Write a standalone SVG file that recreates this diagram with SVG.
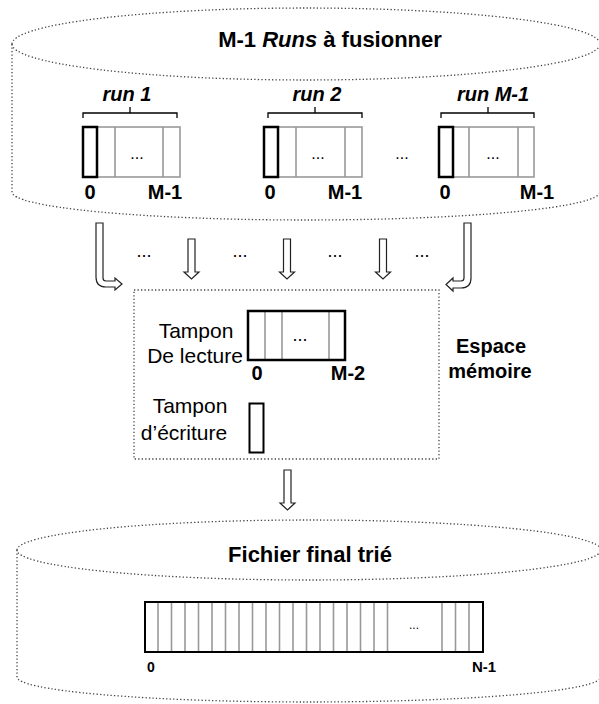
<svg xmlns="http://www.w3.org/2000/svg" width="599" height="704" viewBox="0 0 599 704">
<style>
text{font-family:"Liberation Sans",Arial,sans-serif;fill:#000}
.b{font-weight:bold}
.bi{font-weight:bold;font-style:italic}
.dot{fill:none;stroke:#444;stroke-width:1.3;stroke-dasharray:1.3 2.2}
.blk{fill:none;stroke:#000;stroke-width:2.5}
.gry{fill:none;stroke:#999;stroke-width:1.6}
.gl{stroke:#999;stroke-width:1.6}
.arr{fill:#fff;stroke:#222;stroke-width:1.2;stroke-linejoin:miter}
.br{fill:none;stroke:#000;stroke-width:1.3}
</style>
<defs>
<path id="down" d="M-3.5,0 L3.5,0 L3.5,33 L7.5,33 L0,40 L-7.5,33 L-3.5,33 Z"/>
</defs>

<g id="disk-runs">
<path class="dot" d="M12,44 A294,36 0 1 1 600,44 A294,36 0 1 1 12,44 Z"/>
<path class="dot" d="M12,44 L12,192 A294,28 0 0 0 600,192 L600,44"/>
<text class="b" x="330" y="47" font-size="22" text-anchor="middle">M-1 <tspan font-style="italic">Runs</tspan> à fusionner</text>
</g>

<g id="run1">
<text class="bi" x="127" y="101" font-size="20" text-anchor="middle">run 1</text>
<path class="br" d="M83,118 L83,113 L177,113 L177,118 M130,113 L130,107"/>
<rect class="gry" x="97" y="127" width="83" height="50"/>
<line class="gl" x1="115" y1="127" x2="115" y2="177"/>
<line class="gl" x1="163" y1="127" x2="163" y2="177"/>
<rect class="blk" x="83" y="127" width="14" height="50"/>
<text x="137" y="159" font-size="16" text-anchor="middle">...</text>
<text class="b" x="90" y="199" font-size="20" text-anchor="middle">0</text>
<text class="b" x="165" y="199" font-size="20" text-anchor="middle">M-1</text>
</g>

<g id="run2">
<text class="bi" x="317" y="101" font-size="20" text-anchor="middle">run 2</text>
<path class="br" d="M268,118 L268,113 L362,113 L362,118 M315,113 L315,107"/>
<rect class="gry" x="278" y="127" width="84" height="50"/>
<line class="gl" x1="296" y1="127" x2="296" y2="177"/>
<line class="gl" x1="345" y1="127" x2="345" y2="177"/>
<rect class="blk" x="264" y="127" width="14" height="50"/>
<text x="318" y="159" font-size="16" text-anchor="middle">...</text>
<text class="b" x="270" y="199" font-size="20" text-anchor="middle">0</text>
<text class="b" x="345" y="199" font-size="20" text-anchor="middle">M-1</text>
</g>

<text x="402" y="159" font-size="16" text-anchor="middle">...</text>

<g id="runM1">
<text class="bi" x="493" y="101" font-size="20" text-anchor="middle">run M-1</text>
<path class="br" d="M441,118 L441,113 L534,113 L534,118 M488,113 L488,107"/>
<rect class="gry" x="453" y="127" width="81" height="50"/>
<line class="gl" x1="469" y1="127" x2="469" y2="177"/>
<line class="gl" x1="518" y1="127" x2="518" y2="177"/>
<rect class="blk" x="439" y="127" width="14" height="50"/>
<text x="493" y="159" font-size="16" text-anchor="middle">...</text>
<text class="b" x="445" y="199" font-size="20" text-anchor="middle">0</text>
<text class="b" x="537" y="199" font-size="20" text-anchor="middle">M-1</text>
</g>

<g id="connectors">
<path class="arr" d="M96,223 L96,277 Q96,287 106,287 L115,287 L115,290 L122,284 L115,278 L115,281 L106,281 Q103,281 103,278 L103,223 Z"/>
<use href="#down" class="arr" transform="translate(191.5,239)"/>
<use href="#down" class="arr" transform="translate(287,239)"/>
<use href="#down" class="arr" transform="translate(383,239)"/>
<path class="arr" d="M471,223 L471,278 Q471,288 461,288 L453,288 L453,291 L446,284.5 L453,278 L453,281 L461,281 Q464,281 464,278 L464,223 Z"/>
<use href="#down" class="arr" transform="translate(287.5,470)"/>
</g>
<text x="144" y="257" font-size="18" text-anchor="middle">...</text>
<text x="240" y="257" font-size="18" text-anchor="middle">...</text>
<text x="335" y="257" font-size="18" text-anchor="middle">...</text>
<text x="422" y="257" font-size="18" text-anchor="middle">...</text>

<g id="memory">
<rect class="dot" x="134" y="290" width="305" height="169"/>
<text class="b" x="491" y="353" font-size="20" text-anchor="middle">Espace</text>
<text class="b" x="490" y="378" font-size="20" text-anchor="middle">mémoire</text>
</g>

<g id="read-buffer">
<text x="196" y="338" font-size="21" text-anchor="middle">Tampon</text>
<text x="195" y="363" font-size="21" text-anchor="middle">De lecture</text>
<line class="gl" x1="265" y1="311" x2="265" y2="360"/>
<line class="gl" x1="282" y1="311" x2="282" y2="360"/>
<line class="gl" x1="329" y1="311" x2="329" y2="360"/>
<rect class="blk" x="248" y="311" width="97" height="49"/>
<text x="300" y="341" font-size="18" text-anchor="middle">...</text>
<text class="b" x="257" y="380" font-size="20" text-anchor="middle">0</text>
<text class="b" x="348" y="380" font-size="20" text-anchor="middle">M-2</text>
</g>

<g id="write-buffer">
<text x="190" y="413" font-size="21" text-anchor="middle">Tampon</text>
<text x="184" y="440" font-size="21" text-anchor="middle">d’écriture</text>
<rect x="249.5" y="403.5" width="14" height="49" fill="none" stroke="#000" stroke-width="2"/>
</g>

<g id="disk-final">
<path class="dot" d="M17,550 A292,30 0 1 1 601,550 A292,30 0 1 1 17,550 Z"/>
<path class="dot" d="M17,550 L17,677 A292,25 0 0 0 601,677 L601,550"/>
<text class="b" x="310" y="562" font-size="22" text-anchor="middle">Fichier final trié</text>
<g class="gl">
<line x1="158" y1="602" x2="158" y2="652"/>
<line x1="171.5" y1="602" x2="171.5" y2="652"/>
<line x1="185" y1="602" x2="185" y2="652"/>
<line x1="198.5" y1="602" x2="198.5" y2="652"/>
<line x1="212" y1="602" x2="212" y2="652"/>
<line x1="225.5" y1="602" x2="225.5" y2="652"/>
<line x1="239" y1="602" x2="239" y2="652"/>
<line x1="252.5" y1="602" x2="252.5" y2="652"/>
<line x1="266" y1="602" x2="266" y2="652"/>
<line x1="279.5" y1="602" x2="279.5" y2="652"/>
<line x1="293" y1="602" x2="293" y2="652"/>
<line x1="306.5" y1="602" x2="306.5" y2="652"/>
<line x1="320" y1="602" x2="320" y2="652"/>
<line x1="333.5" y1="602" x2="333.5" y2="652"/>
<line x1="347" y1="602" x2="347" y2="652"/>
<line x1="360.5" y1="602" x2="360.5" y2="652"/>
<line x1="374" y1="602" x2="374" y2="652"/>
<line x1="387.5" y1="602" x2="387.5" y2="652"/>
<line x1="442" y1="602" x2="442" y2="652"/>
<line x1="455.5" y1="602" x2="455.5" y2="652"/>
<line x1="469" y1="602" x2="469" y2="652"/>
</g>
<rect x="145" y="602" width="338" height="50" fill="none" stroke="#000" stroke-width="2"/>
<text x="414" y="629" font-size="12" text-anchor="middle">...</text>
<text class="b" x="151" y="672" font-size="14" text-anchor="middle">0</text>
<text class="b" x="484" y="672" font-size="15" text-anchor="middle">N-1</text>
</g>
</svg>
